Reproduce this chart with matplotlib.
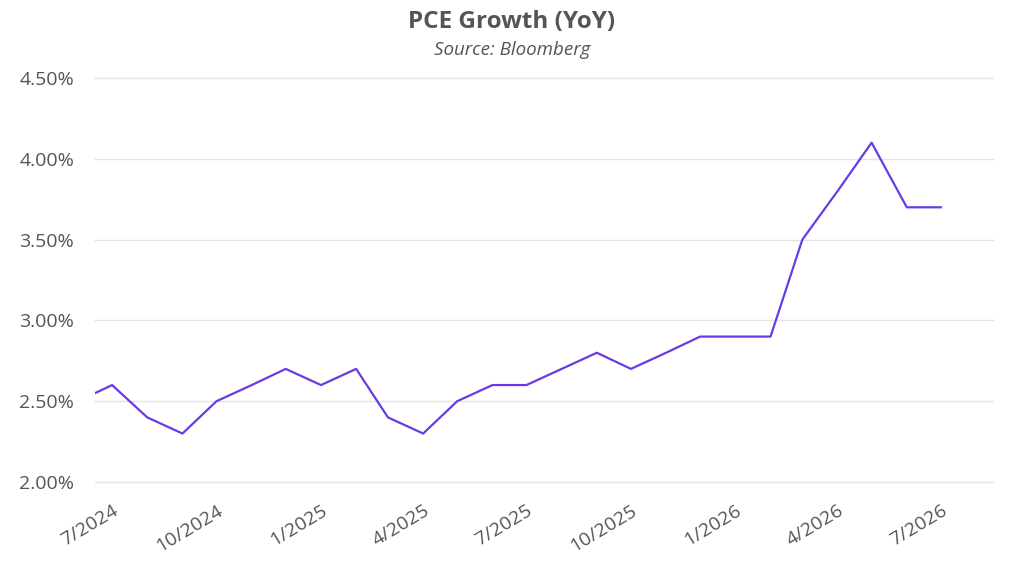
import matplotlib
matplotlib.use('Agg')
import matplotlib.pyplot as plt
import pandas as pd

plt.rcParams['font.family'] = ['Open Sans', 'DejaVu Sans']

# monthly PCE growth (YoY, %) - first point sits left of the visible range
months = pd.date_range('2024-06-01', periods=26, freq='MS')
pce = [2.5, 2.6, 2.4, 2.3, 2.5, 2.6, 2.7, 2.6, 2.7, 2.4, 2.3, 2.5, 2.6,
       2.6, 2.7, 2.8, 2.7, 2.8, 2.9, 2.9, 2.9, 3.5, 3.8, 4.1, 3.7, 3.7]

tick_dates = pd.date_range('2024-07-01', '2026-07-01', freq='3MS')
tick_labels = [f'{d.month}/{d.year}' for d in tick_dates]
y_ticks = [2.0, 2.5, 3.0, 3.5, 4.0, 4.5]

grey = '#555555'

fig = plt.figure(figsize=(10.24, 5.72), dpi=100)
ax = fig.add_axes([0.0928, 0.1573, 0.8770, 0.7063])

ax.plot(months, pce, color='#6A3BE4', linewidth=1.6, zorder=3)

ax.set_xlim(pd.Timestamp('2024-06-16'), pd.Timestamp('2026-08-16'))
ax.set_ylim(2.0, 4.5)

ax.set_yticks(y_ticks)
ax.set_yticklabels([f'{v:.2f}%' for v in y_ticks])
ax.set_xticks(tick_dates)
ax.set_xticklabels(tick_labels, rotation=31, ha='right', rotation_mode='anchor')

ax.grid(axis='y', color='#e3e3e3', linewidth=1)
for gl in ax.get_ygridlines():
    gl.set_clip_on(False)
ax.set_axisbelow(True)
for s in ax.spines.values():
    s.set_visible(False)
ax.tick_params(axis='y', length=0, colors=grey, labelsize=14, pad=15)
ax.tick_params(axis='x', length=0, colors=grey, labelsize=14, pad=14)

fig.text(0.5, 0.962, 'PCE Growth (YoY)', ha='center', va='center',
         fontsize=17.5, fontweight='bold', color=grey)
fig.text(0.5, 0.912, 'Source: Bloomberg', ha='center', va='center',
         fontsize=13.5, style='italic', color=grey)

fig.savefig('out.png', dpi=100)
